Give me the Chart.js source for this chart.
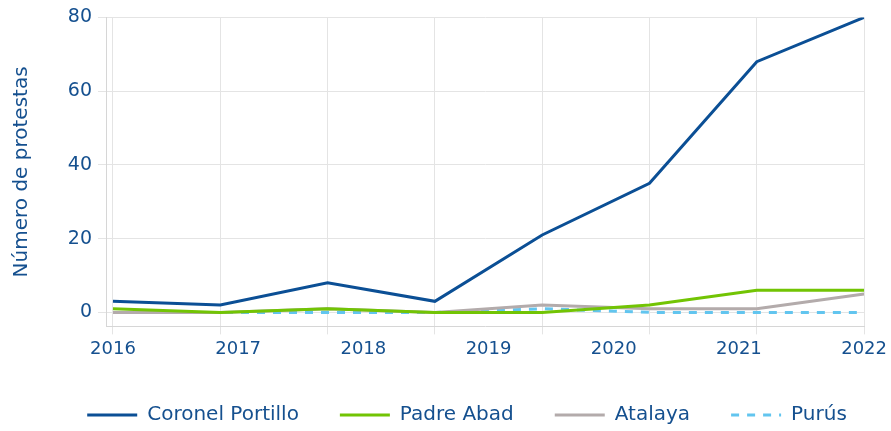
<!DOCTYPE html>
<html>
<head>
<meta charset="utf-8">
<script src="https://cdn.jsdelivr.net/npm/chart.js@4.4.1/dist/chart.umd.min.js"></script>
<style>
  html, body { margin: 0; padding: 0; background: #fff; }
  .chart { width: 891px; height: 431px; }
</style>
</head>
<body>
<div class="chart"><canvas id="protestas"></canvas></div>
<script>
// 8 observaciones, etiquetas de años repartidas a lo largo del eje
const periods = [0, 1, 2, 3, 4, 5, 6, 7];
const years = [2016, 2017, 2018, 2019, 2020, 2021, 2022];
const yTicks = [0, 20, 40, 60, 80];

const coronelPortillo = [3, 2, 8, 3, 21, 35, 68, 80];
const padreAbad = [1, 0, 1, 0, 0, 2, 6, 6];
const atalaya = [0, 0, 1, 0, 2, 1, 1, 5];
const purus = [0, 0, 0, 0, 1, 0, 0, 0];

const textColor = "#15508f";
const font = "'DejaVu Sans', sans-serif";

const toPoints = (vals) => vals.map((v, i) => ({ x: periods[i], y: v }));

const xMin = -0.065;
const xMax = periods[periods.length - 1];
// eje de años alineado con el primer y último punto
const yearStep = (years[years.length - 1] - years[0]) / xMax;
const yearMin = years[0] + xMin * yearStep;

new Chart(document.getElementById("protestas").getContext("2d"), {
  type: "line",
  data: {
    datasets: [
      { label: "Coronel Portillo", data: toPoints(coronelPortillo), borderColor: "#0b4f95", borderWidth: 3 },
      { label: "Padre Abad", data: toPoints(padreAbad), borderColor: "#72c404", borderWidth: 3 },
      { label: "Atalaya", data: toPoints(atalaya), borderColor: "#b3abab", borderWidth: 3 },
      { label: "Purús", data: toPoints(purus), borderColor: "#62c5ef", borderWidth: 3, borderDash: [8, 8] },
    ],
  },
  options: {
    responsive: true,
    maintainAspectRatio: false,
    animation: false,
    elements: { point: { radius: 0 }, line: { tension: 0 } },
    layout: { padding: { left: 8, right: -35, top: 8, bottom: -4 } },
    plugins: {
      tooltip: { enabled: false },
      legend: {
        position: "bottom",
        labels: {
          usePointStyle: true,
          pointStyle: "line",
          pointStyleWidth: 50,
          padding: 41,
          color: textColor,
          font: { family: font, size: 20 },
          generateLabels: (chart) =>
            Chart.defaults.plugins.legend.labels.generateLabels(chart).map((item) => ({
              ...item,
              lineDash: chart.data.datasets[item.datasetIndex].borderDash || [],
              lineWidth: 3,
            })),
        },
      },
    },
    scales: {
      x: {
        type: "linear",
        min: xMin,
        max: xMax,
        weight: 0,
        afterBuildTicks: (axis) => { axis.ticks = periods.map(v => ({ value: v })); },
        ticks: { display: false },
        grid: { color: "#e4e4e4", tickLength: 8 },
        border: { color: "#d6d6d6" },
      },
      x2: {
        type: "linear",
        position: "bottom",
        min: yearMin,
        max: years[years.length - 1],
        weight: 1,
        afterBuildTicks: (axis) => { axis.ticks = years.map(v => ({ value: v })); },
        ticks: {
          color: textColor,
          font: { family: font, size: 18 },
          padding: 4,
          maxRotation: 0,
          callback: (v) => String(v),
        },
        grid: { display: false, drawTicks: false },
        border: { display: false },
      },
      y: {
        min: -3.8,
        max: 80,
        afterBuildTicks: (axis) => { axis.ticks = yTicks.map(v => ({ value: v })); },
        afterFit: (axis) => { axis.width = 98; },
        ticks: { color: textColor, font: { family: font, size: 19 }, padding: 6 },
        grid: { color: "#e4e4e4", tickLength: 8 },
        border: { color: "#d6d6d6" },
        title: {
          display: true,
          text: "Número de protestas",
          color: textColor,
          font: { family: font, size: 20 },
          padding: { top: 2, bottom: 10 },
        },
      },
    },
  },
});
</script>
</body>
</html>
